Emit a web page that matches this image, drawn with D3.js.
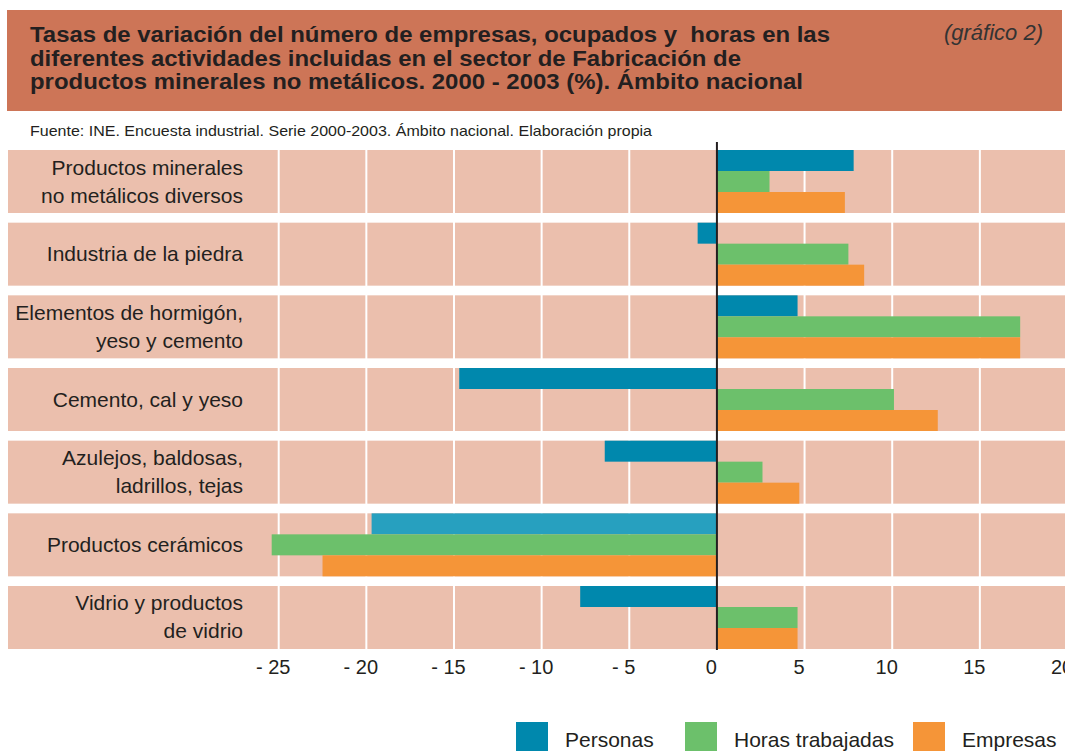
<!DOCTYPE html>
<html><head><meta charset="utf-8">
<script src="https://cdn.jsdelivr.net/npm/d3@7"></script>
<style>html,body{margin:0;padding:0;background:#fff;} svg{display:block;}</style>
</head><body>
<svg id="c" width="1065" height="751"></svg>
<script>
const categories = [
  ["Productos minerales", "no metálicos diversos"],
  ["Industria de la piedra"],
  ["Elementos de hormigón,", "yeso y cemento"],
  ["Cemento, cal y yeso"],
  ["Azulejos, baldosas,", "ladrillos, tejas"],
  ["Productos cerámicos"],
  ["Vidrio y productos", "de vidrio"]
];
const seriesNames = ["Personas", "Horas trabajadas", "Empresas"];
const personas = [7.8, -1.1, 4.6, -14.7, -6.4, -19.7, -7.8];
const horas    = [3.0, 7.5, 17.3, 10.1, 2.6, -25.4, 4.6];
const empresas = [7.3, 8.4, 17.3, 12.6, 4.7, -22.5, 4.6];
const ticks = [-25, -20, -15, -10, -5, 0, 5, 10, 15, 20];
const tickLabels = ["- 25", "- 20", "- 15", "- 10", "- 5", "0", "5", "10", "15", "20"];
const titleLines = [
  "Tasas de variación del número de empresas, ocupados y  horas en las",
  "diferentes actividades incluidas en el sector de Fabricación de",
  "productos minerales no metálicos. 2000 - 2003 (%). Ámbito nacional"
];
const titleTag = "(gráfico 2)";
const source = "Fuente: INE. Encuesta industrial. Serie 2000-2003. Ámbito nacional. Elaboración propia";

const colors = ["#0088ad", "#6cc06b", "#f59538"];
const highlightColor = "#27a0bf";
const seriesValues = [personas, horas, empresas];

const svg = d3.select("#c");
const font = "'Liberation Sans', Arial, Helvetica, sans-serif";
const textColor = "#231f20";

// Title box
svg.append("rect").attr("x", 7).attr("y", 10).attr("width", 1055).attr("height", 101).attr("fill", "#cd7557");
const titleWidths = [800, 711, 773];
titleLines.forEach((t, i) => {
  svg.append("text").attr("x", 30).attr("y", 42 + i * 23.5)
    .attr("font-family", font).attr("font-weight", "bold").attr("font-size", 22)
    .attr("fill", textColor)
    .attr("textLength", titleWidths[i]).attr("lengthAdjust", "spacingAndGlyphs")
    .style("white-space", "pre")
    .text(t);
});
svg.append("text").attr("x", 1043).attr("y", 40).attr("text-anchor", "end")
  .attr("font-family", font).attr("font-style", "italic").attr("font-size", 22)
  .attr("fill", "#333").text(titleTag);

svg.append("text").attr("x", 30).attr("y", 136)
  .attr("font-family", font).attr("font-size", 14.5).attr("fill", textColor)
  .attr("textLength", 622).attr("lengthAdjust", "spacingAndGlyphs")
  .text(source);

// Scales
const x = d3.scaleLinear().domain([-25, 20]).range([278.7, 1067.5]);
const y = d3.scaleBand().domain(d3.range(categories.length)).range([150, 649]).paddingInner(0.133).paddingOuter(0);
const ys = d3.scaleBand().domain(d3.range(3)).range([0, y.bandwidth()]).padding(0);

// Bands
svg.append("g").selectAll("rect").data(categories).join("rect")
  .attr("x", 8).attr("width", 1065 - 8)
  .attr("y", (d, i) => y(i)).attr("height", y.bandwidth())
  .attr("fill", "#ebbfad");

// Gridlines
svg.append("g").selectAll("line").data(ticks.filter(t => t !== 0)).join("line")
  .attr("x1", d => x(d)).attr("x2", d => x(d))
  .attr("y1", 150).attr("y2", 649)
  .attr("stroke", "#fff").attr("stroke-width", 2);

// Bars
seriesValues.forEach((vals, s) => {
  svg.append("g").selectAll("rect").data(vals).join("rect")
    .attr("x", d => Math.min(x(0), x(d)))
    .attr("width", d => Math.abs(x(d) - x(0)))
    .attr("y", (d, i) => y(i) + ys(s))
    .attr("height", ys.bandwidth())
    .attr("fill", (d, i) => (s === 0 && i === 5) ? highlightColor : colors[s]);
});

// Zero line
svg.append("line").attr("x1", x(0)).attr("x2", x(0)).attr("y1", 142).attr("y2", 650)
  .attr("stroke", "#231f20").attr("stroke-width", 2);

// Category labels
categories.forEach((lines, i) => {
  const c = y(i) + y.bandwidth() / 2;
  const t = svg.append("text").attr("text-anchor", "end")
    .attr("font-family", font).attr("font-size", 21).attr("fill", textColor);
  if (lines.length === 1) {
    t.append("tspan").attr("x", 243).attr("y", c + 7).text(lines[0]);
  } else {
    t.append("tspan").attr("x", 243).attr("y", c - 7).text(lines[0]);
    t.append("tspan").attr("x", 243).attr("y", c + 21).text(lines[1]);
  }
});

// Axis tick labels
const axis = d3.axisBottom(x).tickValues(ticks).tickSize(0).tickPadding(0)
  .tickFormat((d, i) => tickLabels[i]);
const ag = svg.append("g").attr("transform", "translate(0,660)").call(axis);
ag.select(".domain").remove();
ag.selectAll("text").attr("font-family", font).attr("font-size", 20).attr("fill", textColor)
  .attr("dx", -6).attr("dy", "0.72em").attr("y", 0);

// Legend
const legX = [516, 685, 913];
seriesNames.forEach((n, i) => {
  svg.append("rect").attr("x", legX[i]).attr("y", 722).attr("width", 32).attr("height", 32).attr("fill", colors[i]);
  svg.append("text").attr("x", legX[i] + 49).attr("y", 747)
    .attr("font-family", font).attr("font-size", 21).attr("fill", textColor).text(n);
});
</script>
</body></html>
